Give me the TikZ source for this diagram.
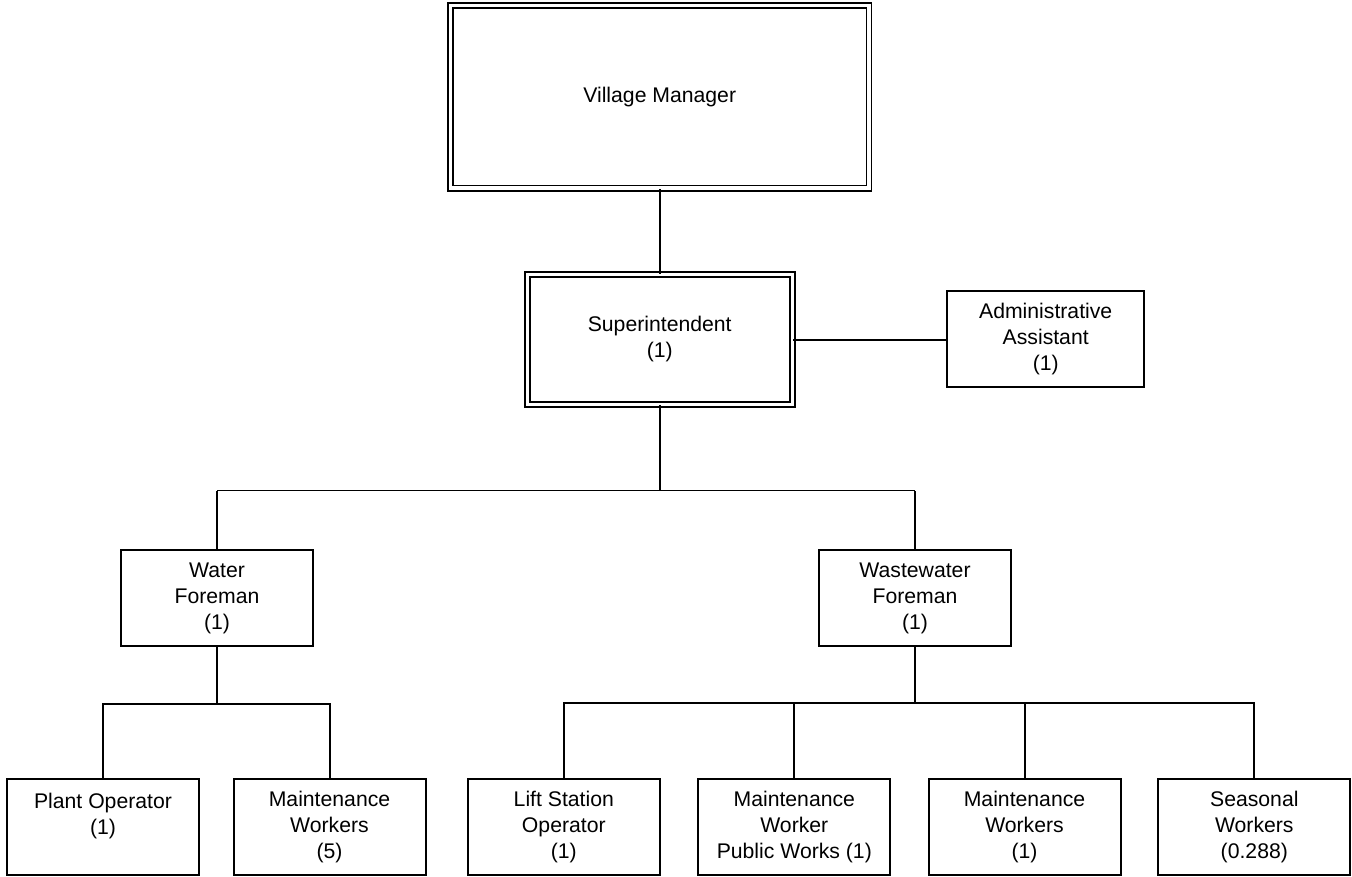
\documentclass[tikz,border=0pt]{standalone}
\usepackage{fontspec}
\setmainfont{Liberation Sans}
\begin{document}
\begin{tikzpicture}[x=0.75pt,y=-0.75pt,
  every node/.style={font=\fontsize{15.9pt}{19.5pt}\selectfont, align=center, inner sep=0pt, text=black},
  unitbox/.style={draw, line width=1.5pt, minimum width=144pt, minimum height=72pt},
  headbox/.style={draw, line width=1.4pt, double, double distance=2.4pt},
  thickline/.style={line width=1.5pt},
  thinline/.style={line width=0.8pt}]
\useasboundingbox[fill=white] (0,0) rectangle (1352,876);

% top levels
\node[headbox, minimum width=313.9pt, minimum height=136.9pt] (vm) at (659.7,96.8) {Village Manager};
\node[headbox, minimum width=198.8pt, minimum height=97.5pt] (sup) at (659.7,339.5) {Superintendent\\(1)};
\node[unitbox, minimum width=147.4pt] (adm) at (1045.7,339) {Administrative\\Assistant\\(1)};

% foremen
\node[unitbox] (wf) at (217,598) {Water\\Foreman\\(1)};
\node[unitbox] (wwf) at (915,598) {Wastewater\\Foreman\\(1)};

% crews
\node[unitbox] (po) at (103,827) {Plant Operator\\(1)\\~};
\node[unitbox] (mw5) at (329.5,827) {Maintenance\\Workers\\(5)};
\node[unitbox] (ls) at (563.8,827) {Lift Station\\Operator\\(1)};
\node[unitbox] (mwpw) at (794.3,827) {Maintenance\\Worker\\Public Works (1)};
\node[unitbox] (mw1) at (1024.5,827) {Maintenance\\Workers\\(1)};
\node[unitbox] (sea) at (1254.3,827) {Seasonal\\Workers\\(0.288)};

% bus rows
\coordinate (r1) at (0,490.5);
\coordinate (r2) at (0,704);
\coordinate (r3) at (0,703);
\coordinate (j1) at (sup.south |- r1);
\coordinate (j2) at (wf.south |- r2);
\coordinate (j3) at (wwf.south |- r3);

% connectors
\draw[thickline] (vm.south) -- (sup.north);
\draw[thickline] (sup.east) -- (sup.east -| adm.west);
\draw[thickline] (sup.south) -- (j1);
\draw[thinline] (wf.north |- r1) -- (wwf.north |- r1);
\draw[thickline] (wf.north) -- (wf.north |- r1);
\draw[thinline] (wwf.north) -- (wwf.north |- r1);

\draw[thickline] (wf.south) -- (j2);
\draw[thickline] (po.north) |- (j2) -| (mw5.north);

\draw[thinline] (wwf.south) -- (j3);
\draw[thickline] (ls.north) |- (j3) -| (sea.north);
\draw[thickline] (mwpw.north) -- (mwpw.north |- r3);
\draw[thickline] (mw1.north) -- (mw1.north |- r3);
\end{tikzpicture}
\end{document}
